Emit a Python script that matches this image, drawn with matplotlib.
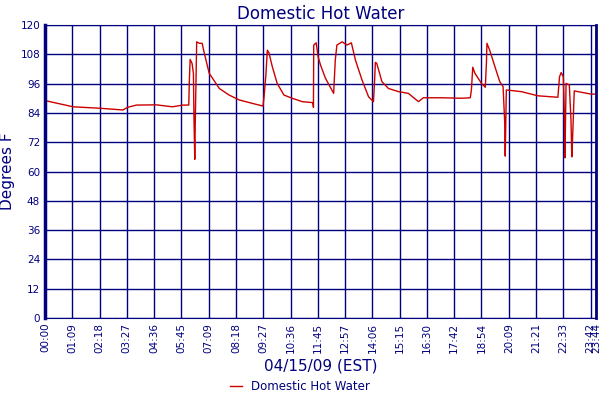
import matplotlib
matplotlib.use("Agg")
import matplotlib.pyplot as plt

tick_labels = ["00:00","01:09","02:18","03:27","04:36","05:45","07:09","08:18","09:27","10:36",
               "11:45","12:57","14:06","15:15","16:30","17:42","18:54","20:09","21:21","22:33","23:42","23:44"]
tick_pos = list(range(21)) + [20.19]

# x in tick-index units, y in degrees F
x = [0.06,1.03,2.01,2.86,3.03,3.35,4.08,4.67,5.05,5.27,5.29,5.32,5.39,5.44,5.46,5.49,5.51,5.56,5.66,5.76,5.84,
     6.02,6.39,6.75,7.12,7.60,7.99,8.03,8.10,8.15,8.21,8.33,8.51,8.76,9.06,9.43,9.82,9.84,9.85,9.94,10.01,10.10,
     10.28,10.58,10.64,10.70,10.89,11.07,11.23,11.38,11.62,11.86,12.04,12.08,12.11,12.16,12.35,12.59,12.96,13.32,
     13.69,13.87,14.54,15.27,15.59,15.63,15.68,15.76,16.00,16.14,16.18,16.20,16.30,16.49,16.67,16.79,16.85,16.87,
     16.91,17.46,18.07,18.80,18.86,18.92,19.00,19.04,19.06,19.10,19.22,19.28,19.31,19.34,19.40,20.01,20.19]
y = [88.9,86.5,85.9,85.2,86.3,87.2,87.3,86.5,87.2,87.2,96.8,105.9,104.3,100.2,82.4,65.0,81.4,113.1,112.5,112.5,108.4,
     100.2,94.0,91.3,89.3,87.9,86.8,90.6,100.0,109.7,108.6,103.0,96.1,91.3,90.0,88.6,88.2,86.3,111.8,112.7,107.0,103.6,
     98.2,92.0,105.6,111.8,113.1,111.8,112.7,105.6,97.5,90.6,88.6,96.8,104.7,104.3,96.8,94.0,92.7,92.0,
     88.6,90.2,90.2,90.0,90.2,93.4,102.7,100.2,96.1,94.5,104.3,112.5,109.7,103.0,96.8,94.8,80.4,66.3,
     93.4,92.7,91.0,90.4,98.8,100.5,98.8,82.4,65.6,96.1,95.4,81.1,66.0,74.0,93.0,91.7,91.7]

navy = "#00007f"
fig = plt.figure(figsize=(6, 4), dpi=100)
ax = fig.add_axes([0.075, 0.205, 0.918, 0.7325])
ax.plot(x, y, color="#cc0000", lw=1.0, label="Domestic Hot Water")
ax.set_xlim(0, 20.19)
ax.set_ylim(0, 120)
ax.set_yticks(range(0, 121, 12))
ax.set_xticks(tick_pos)
ax.set_xticklabels(tick_labels, rotation=90)
ax.grid(True, color=navy, lw=1)
ax.tick_params(colors=navy, labelcolor=navy, labelsize=7.5, length=0)
for s in ax.spines.values():
    s.set_color(navy)
ax.spines["left"].set_linewidth(2.5)
ax.spines["right"].set_linewidth(2)
ax.set_title("Domestic Hot Water", color=navy, fontsize=12, pad=4)
ax.set_ylabel("Degrees F", color=navy, fontsize=11)
ax.set_xlabel("04/15/09 (EST)", color=navy, fontsize=11, labelpad=4)
leg = fig.legend(loc="lower center", bbox_to_anchor=(0.5, -0.01), frameon=False, fontsize=8.5,
                 handlelength=1, labelcolor=navy)
fig.savefig("out.png")
